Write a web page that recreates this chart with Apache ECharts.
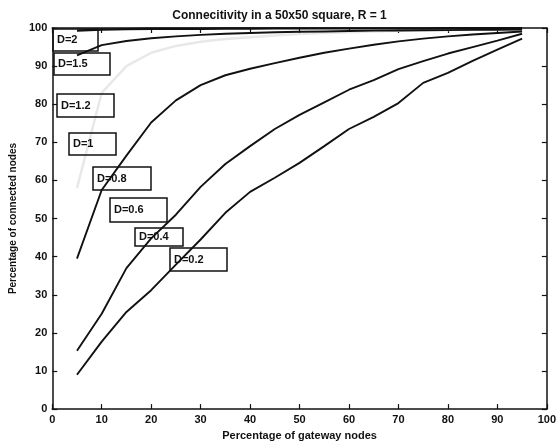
<!DOCTYPE html>
<html><head><meta charset="utf-8">
<script src="https://cdn.jsdelivr.net/npm/echarts@6/dist/echarts.min.js"></script>
<style>html,body{margin:0;padding:0;background:#fff}#c{width:559px;height:446px}</style>
</head><body><div id="c"></div>
<script>
// ---- data ----
const gatewayPct = [5,10,15,20,25,30,35,40,45,50,55,60,65,70,75,80,85,90,95];
const connD2   = [99.3,99.6,99.7,99.8,99.8,99.8,99.85,99.85,99.9,99.9,99.9,99.9,99.9,99.9,99.9,99.95,99.95,99.95,99.95];
const connD15  = [92.8,95.5,96.6,97.3,97.8,98.2,98.5,98.7,98.9,99.0,99.1,99.2,99.3,99.35,99.4,99.45,99.5,99.55,99.6];
const connFaint= [58,83,90,93.5,95.3,96.4,97.1,97.6,98,98.4,98.7,98.9,99.1,99.3,99.4,99.5,99.6,99.7,99.8];
const connD08  = [39.5,57.5,66.5,75.2,81,85,87.6,89.3,90.8,92.2,93.5,94.6,95.6,96.5,97.2,97.8,98.3,98.7,99.1];
const connD04  = [15.3,25,37,44.8,51,58.3,64.3,69,73.5,77.2,80.5,83.8,86.3,89.2,91.3,93.3,95,96.7,98.5];
const connD02  = [9,17.7,25.5,31.2,37.9,44.5,51.5,57,60.7,64.6,69,73.5,76.7,80.3,85.6,88.2,91.4,94.3,97.2];
const labelTexts = ['D=2','D=1.5','D=1.2','D=1','D=0.8','D=0.6','D=0.4','D=0.2'];
const titleText = 'Connecitivity in a 50x50 square, R = 1';
const xName = 'Percentage of gateway nodes';
const yName = 'Percentage of connected nodes';

// ---- layout / style ----
const labelBoxes = [
  [53,29,45,22],[54,53,56,22],[57,94,57,23],[69,133,47,22],
  [93,167,58,23],[110,198,57,24],[135,228,48,18],[170,248,57,23]
];
const FONT = 'Liberation Sans, Arial, sans-serif';
const chart = echarts.init(document.getElementById('c'));
function pairs(ys){ return gatewayPct.map((x,i)=>[x,ys[i]]); }
function line(ys, color, w, z){
  return {type:'line', data:pairs(ys), showSymbol:false, symbol:'none', smooth:false,
    lineStyle:{color:color, width:w}, z:z, silent:true, animation:false};
}
const axisCommon = {
  min:0, max:100, interval:10,
  axisLine:{show:true, onZero:false, lineStyle:{color:'#111', width:1.5}},
  axisTick:{show:true, inside:true, length:5, lineStyle:{color:'#111', width:1.2}},
  splitLine:{show:false}
};
const labelStyle = {color:'#111', fontSize:11, fontWeight:'bold', fontFamily:FONT};
const graphics = [];
labelBoxes.forEach((b,i)=>{
  graphics.push({type:'rect', shape:{x:b[0],y:b[1],width:b[2],height:b[3]},
    style:{fill:'none', stroke:'#111', lineWidth:1.5}, z:100});
  graphics.push({type:'text', x:b[0]+4, y:b[1]+b[3]/2,
    style:{text:labelTexts[i], fill:'#111', font:'bold 11px '+FONT, verticalAlign:'middle', align:'left'}, z:101});
});
chart.setOption({
  animation:false,
  backgroundColor:'#fff',
  title:{text:titleText, left:'center', top:5,
    textStyle:{color:'#111', fontSize:12, fontWeight:'bold', fontFamily:FONT}},
  grid:{left:48, right:9, top:28, bottom:34, containLabel:false},
  xAxis:[
    Object.assign({type:'value', position:'bottom', name:xName, nameLocation:'middle', nameGap:19,
      nameTextStyle:labelStyle, axisLabel:Object.assign({margin:5}, labelStyle)}, axisCommon),
    Object.assign({type:'value', position:'top', axisLabel:{show:false}}, axisCommon)
  ],
  yAxis:[
    Object.assign({type:'value', position:'left', name:yName, nameLocation:'middle', nameGap:29,
      nameTextStyle:Object.assign({}, labelStyle, {fontSize:10}), axisLabel:Object.assign({margin:5}, labelStyle)}, axisCommon),
    Object.assign({type:'value', position:'right', axisLabel:{show:false}}, axisCommon)
  ],
  series:[
    line(connFaint,'#e8e8e8',2.5,1),
    line(connD2,'#111',2.4,3),
    line(connD15,'#111',1.9,3),
    line(connD08,'#111',1.9,3),
    line(connD04,'#111',1.9,3),
    line(connD02,'#111',1.9,3)
  ],
  graphic:graphics
});
</script>
</body></html>
